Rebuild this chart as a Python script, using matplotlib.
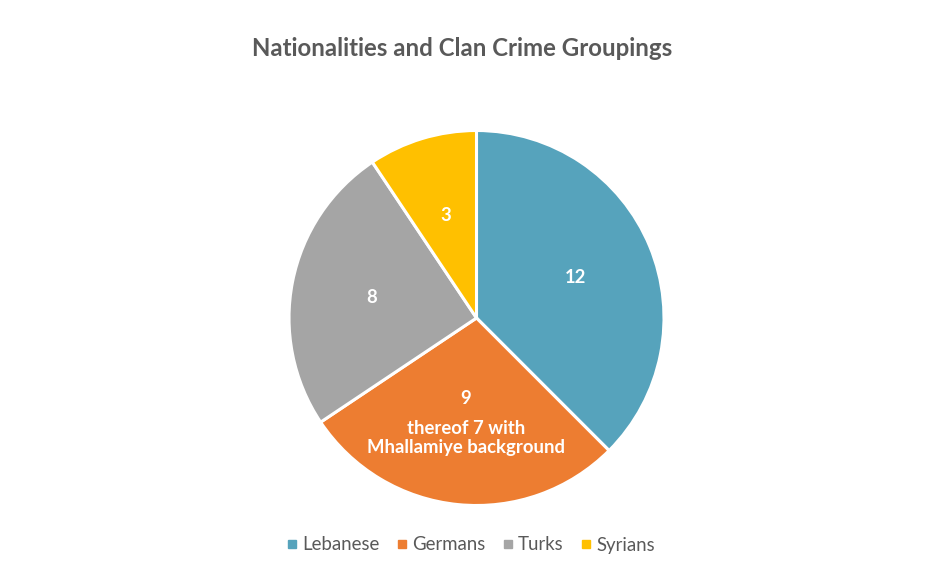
import matplotlib.pyplot as plt
from matplotlib.lines import Line2D

plt.rcParams['font.family'] = ['Lato', 'DejaVu Sans']

# data
groups = ['Lebanese', 'Germans', 'Turks', 'Syrians']
counts = [12, 9, 8, 3]
colors = ['#56A3BC', '#ED7D31', '#A5A5A5', '#FFC000']
german_note = 'thereof 7 with\nMhallamiye background'
title = 'Nationalities and Clan Crime Groupings'

W, H = 929, 584
fig = plt.figure(figsize=(W / 100, H / 100), dpi=100)

# pie centre / radius in pixels
cx, cy, r = 476.5, 318, 187.5
ax = fig.add_axes([(cx - r) / W, (H - cy - r) / H, 2 * r / W, 2 * r / H])

wedges, texts = ax.pie(counts, colors=colors, startangle=90, counterclock=False,
                       labels=[str(c) for c in counts], labeldistance=0.57,
                       wedgeprops=dict(edgecolor='white', linewidth=2.2))
for t in texts:
    t.set_ha('center')
    t.set_va('center')
    t.set_color('white')
    t.set_fontsize(13.3)
    t.set_fontweight('bold')

# germans label moved up, note beneath it
gx, gy = texts[1].get_position()
texts[1].set_position((gx, gy + 0.14))
ax.text(gx, gy - 0.075, german_note, ha='center', va='center', color='white',
        fontsize=13.3, fontweight='bold', linespacing=1.15)

ax.set_xlim(-1, 1)
ax.set_ylim(-1, 1)
ax.set_aspect('equal')

fig.text(0.5 * (251 + 673) / W, 1 - 49 / H, title, ha='center', va='center',
         fontsize=17.3, fontweight='bold', color='#595959')

handles = [Line2D([], [], marker='s', linestyle='', markersize=6,
                  markerfacecolor=c, markeredgecolor=c) for c in colors]
fig.legend(handles, groups, loc='center', bbox_to_anchor=(471 / W, 1 - 545 / H),
           ncol=4, frameon=False, fontsize=13.4, handlelength=0.5,
           handletextpad=0.3, columnspacing=0.95, labelcolor='#595959')

fig.savefig('out.png', dpi=100)
